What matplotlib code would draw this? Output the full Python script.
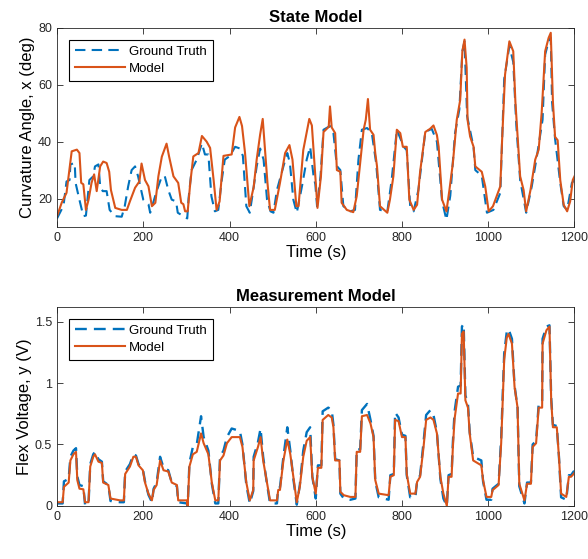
import numpy as np
import matplotlib
matplotlib.use('Agg')
import matplotlib.pyplot as plt

plt.rcParams['font.family'] = ['Liberation Sans', 'DejaVu Sans']

# ---- State model: curvature angle (deg) ----
t_state_model = [0, 11, 22, 34, 46, 52, 56, 61, 67, 73, 80, 86, 92, 100, 107, 115, 121, 125, 135, 150,
                 162, 169, 181, 191, 196, 204, 212, 220, 228, 235, 243, 254, 260, 270, 281, 288, 293, 297, 303, 309,
                 316, 328, 336, 347, 355, 363, 370, 377, 386, 405, 413, 423, 429, 436, 446, 456, 463, 471, 477, 483,
                 488, 494, 505, 517, 529, 539, 546, 555, 560, 571, 585, 591, 599, 604, 612, 618, 630, 633, 637, 645,
                 649, 657, 660, 672, 687, 695, 703, 711, 716, 721, 726, 734, 738, 742, 749, 766, 772, 780, 788, 796,
                 802, 811, 817, 827, 835, 842, 854, 865, 873, 881, 885, 893, 903, 910, 918, 927, 935, 940, 945, 950,
                 952, 958, 966, 970, 985, 993, 1001, 1011, 1028, 1032, 1039, 1049, 1058, 1063, 1074, 1082, 1088, 1098, 1109, 1117,
                 1124, 1132, 1140, 1145, 1150, 1155, 1161, 1167, 1175, 1183, 1190, 1196, 1200]
x_state_model = [13.8, 18.6, 22, 36.6, 37.2, 36, 25.5, 25, 16, 19.5, 25.5, 28.5, 22.6, 31.3, 33, 32.5, 29.4, 23, 16.7, 16,
                 16, 19, 23.8, 26, 32.3, 26.5, 24.3, 17.3, 18.5, 27.8, 34.7, 39.3, 34.7, 27.8, 25.5, 18.5, 18, 15.5, 15.5, 25.5,
                 34.8, 36, 42, 40, 37.8, 26.7, 16, 19, 35, 35.5, 45, 48.7, 45.5, 36, 17.3, 24, 33.7, 42.5, 48, 36,
                 25.5, 16, 16, 25.5, 36, 38.8, 33.7, 17.3, 17.3, 37, 48, 45.7, 27.8, 16.7, 27.8, 43.4, 45.2, 52.4, 45, 43,
                 30, 29.4, 18.5, 16, 15.2, 20.8, 32.5, 44.2, 47.7, 55, 44.2, 42.4, 36, 31.4, 17.3, 15, 19.6, 27.8, 44.2, 43,
                 38.2, 38.2, 19.6, 16, 17.8, 29.4, 43.4, 44.5, 45.7, 42.3, 38.2, 19.6, 15.5, 23, 32.5, 47.7, 54.7, 71.8, 75.9, 66,
                 47.7, 41.8, 38.2, 31.3, 29.4, 24.3, 15.5, 17.3, 24.3, 40, 63.6, 75.3, 71.8, 54, 27.8, 23, 15.5, 23, 33.7, 37.2,
                 50.4, 71.8, 76.5, 78.3, 54, 41.7, 40.5, 26.5, 17.8, 15.5, 19, 26.5, 27.8]

t_state_truth = [0, 15, 22, 29, 31, 41, 43, 52, 61, 67, 75, 84, 88, 96, 100, 106, 115, 122, 134, 150,
                 157, 165, 173, 181, 188, 200, 212, 216, 231, 243, 250, 258, 266, 276, 280, 293, 302, 305, 312, 324,
                 336, 343, 351, 358, 366, 374, 382, 389, 401, 413, 424, 431, 439, 447, 455, 463, 471, 479, 487, 495,
                 502, 510, 525, 534, 540, 548, 556, 568, 579, 587, 595, 599, 603, 611, 618, 633, 641, 649, 657, 664,
                 680, 691, 699, 707, 719, 730, 740, 749, 766, 776, 788, 804, 811, 819, 827, 838, 854, 869, 881, 893,
                 903, 912, 923, 933, 940, 945, 951, 966, 970, 985, 997, 1012, 1028, 1037, 1049, 1058, 1065, 1074, 1088, 1101,
                 1113, 1126, 1132, 1140, 1145, 1148, 1155, 1167, 1175, 1183, 1194, 1200]
x_state_truth = [13, 17.5, 26, 26.5, 32, 32.5, 25.5, 19.5, 13.8, 14, 26.5, 27.8, 31.3, 32, 24.3, 22.6, 22.6, 16, 13.8, 13.6,
                 17.3, 24.3, 30, 31.3, 27.8, 19.6, 18, 15, 22.6, 27.8, 27.8, 23, 19.6, 19, 15, 13.8, 13, 20, 30, 33.7,
                 39.4, 35.5, 35.5, 20.8, 15.5, 16, 26.5, 33.7, 35, 38.2, 37.6, 35, 17.3, 15, 23, 31.3, 37.6, 33.7, 19.6, 15.5,
                 15, 23, 31.3, 36, 32.5, 19.6, 15, 24.3, 33.7, 38.2, 27.8, 25, 17.3, 27.8, 44.2, 45.5, 43, 31.4, 30, 17.3,
                 15.5, 16, 33.7, 44.2, 44.8, 43, 32.5, 16, 15.5, 26.5, 44.2, 38.2, 37, 17.3, 15.5, 23, 43.4, 44.5, 40, 19,
                 12.5, 21, 43, 51.3, 71.8, 75.3, 49, 38, 30, 28, 15, 16, 22, 62, 73.6, 68, 46, 26.5, 15, 24.3,
                 35, 47.7, 70.6, 75.3, 76.5, 54, 41, 25.5, 17.3, 16, 25.5, 26.5]

# ---- Measurement model: flex voltage (V) ----
t_meas = [0, 13, 16, 27, 31, 38, 44, 47, 52, 61, 65, 73, 77, 84, 88, 96, 104, 107, 119, 124,
          146, 155, 158, 169, 177, 183, 189, 199, 204, 212, 220, 224, 231, 239, 247, 258, 266, 278, 281, 301,
          303, 307, 315, 324, 334, 340, 351, 359, 367, 374, 378, 386, 394, 405, 424, 430, 439, 447, 455, 456,
          466, 472, 478, 486, 494, 510, 513, 517, 525, 534, 541, 548, 556, 563, 571, 579, 587, 592, 600, 605,
          613, 616, 629, 637, 641, 645, 655, 657, 665, 680, 692, 695, 703, 707, 719, 727, 734, 738, 746, 769,
          773, 781, 784, 792, 800, 808, 811, 819, 831, 835, 842, 850, 856, 866, 873, 881, 889, 896, 904, 908,
          915, 918, 922, 930, 936, 939, 943, 947, 953, 957, 965, 984, 988, 996, 1007, 1010, 1024, 1030, 1037, 1043,
          1047, 1055, 1061, 1068, 1072, 1084, 1090, 1099, 1103, 1111, 1117, 1125, 1126, 1135, 1142, 1146, 1150, 1159, 1164, 1169,
          1181, 1187, 1192, 1198, 1200]
y_meas_model = [0.03, 0.03, 0.155, 0.19, 0.37, 0.42, 0.44, 0.21, 0.14, 0.135, 0.03, 0.03, 0.32, 0.40, 0.42, 0.36, 0.35, 0.19, 0.17, 0.06,
                0.045, 0.045, 0.26, 0.32, 0.40, 0.40, 0.33, 0.29, 0.19, 0.10, 0.045, 0.13, 0.17, 0.37, 0.29, 0.28, 0.19, 0.17, 0.045, 0.045,
                0.0, 0.32, 0.42, 0.44, 0.59, 0.51, 0.42, 0.19, 0.045, 0.045, 0.37, 0.41, 0.51, 0.56, 0.56, 0.48, 0.19, 0.045, 0.13, 0.37,
                0.48, 0.56, 0.37, 0.21, 0.045, 0.045, 0.13, 0.13, 0.37, 0.54, 0.42, 0.24, 0.03, 0.155, 0.40, 0.53, 0.56, 0.237, 0.10, 0.31,
                0.31, 0.70, 0.74, 0.72, 0.64, 0.37, 0.37, 0.115, 0.087, 0.073, 0.073, 0.44, 0.44, 0.73, 0.74, 0.67, 0.56, 0.21, 0.10, 0.087,
                0.237, 0.25, 0.70, 0.69, 0.56, 0.56, 0.26, 0.10, 0.10, 0.195, 0.237, 0.48, 0.70, 0.72, 0.70, 0.59, 0.237, 0.10, 0.0, 0.237,
                0.237, 0.48, 0.71, 0.915, 0.915, 1.40, 1.42, 0.86, 0.80, 0.59, 0.37, 0.33, 0.21, 0.073, 0.073, 0.128, 0.17, 0.51, 1.19, 1.37,
                1.40, 1.32, 0.97, 0.80, 0.18, 0.045, 0.18, 0.18, 0.48, 0.51, 0.80, 0.80, 1.32, 1.43, 1.46, 0.86, 0.64, 0.64, 0.40, 0.10,
                0.073, 0.237, 0.237, 0.26, 0.27]
y_meas_truth = [0.02, 0.02, 0.20, 0.22, 0.40, 0.45, 0.47, 0.24, 0.17, 0.16, 0.01, 0.01, 0.34, 0.42, 0.44, 0.38, 0.36, 0.20, 0.17, 0.04,
                0.03, 0.03, 0.28, 0.34, 0.42, 0.41, 0.34, 0.30, 0.20, 0.09, 0.03, 0.14, 0.19, 0.40, 0.31, 0.29, 0.19, 0.16, 0.03, 0.02,
                0.0, 0.35, 0.48, 0.50, 0.73, 0.56, 0.45, 0.18, 0.02, 0.02, 0.40, 0.45, 0.56, 0.63, 0.61, 0.50, 0.17, 0.02, 0.12, 0.40,
                0.52, 0.63, 0.40, 0.20, 0.02, 0.02, 0.15, 0.15, 0.40, 0.64, 0.45, 0.22, 0.01, 0.17, 0.45, 0.60, 0.64, 0.24, 0.06, 0.33,
                0.33, 0.77, 0.80, 0.78, 0.66, 0.38, 0.37, 0.10, 0.06, 0.05, 0.06, 0.46, 0.46, 0.78, 0.83, 0.70, 0.57, 0.20, 0.07, 0.05,
                0.25, 0.26, 0.76, 0.72, 0.58, 0.57, 0.25, 0.07, 0.07, 0.20, 0.25, 0.52, 0.74, 0.78, 0.74, 0.60, 0.22, 0.06, 0.0, 0.25,
                0.26, 0.52, 0.77, 0.97, 0.98, 1.46, 1.48, 0.90, 0.83, 0.60, 0.40, 0.37, 0.20, 0.05, 0.05, 0.14, 0.18, 0.55, 1.24, 1.42,
                1.44, 1.36, 0.98, 0.80, 0.16, 0.02, 0.19, 0.19, 0.50, 0.53, 0.83, 0.84, 1.36, 1.46, 1.47, 0.88, 0.66, 0.65, 0.40, 0.07,
                0.05, 0.25, 0.25, 0.28, 0.28]

blue = '#0072BD'
orange = '#D95319'

fig = plt.figure(figsize=(5.88, 5.59), dpi=100)
ax1 = fig.add_axes([0.097, 0.594, 0.880, 0.356])
ax2 = fig.add_axes([0.097, 0.095, 0.880, 0.356])

ax1.plot(t_state_truth, x_state_truth, color=blue, lw=1.5, ls=(0, (5, 3)), label='Ground Truth')
ax1.plot(t_state_model, x_state_model, color=orange, lw=1.5, label='Model')
ax1.set_xlim(0, 1200)
ax1.set_ylim(10, 80)
ax1.set_yticks([20, 40, 60, 80])
ax1.set_title('State Model', fontsize=12, fontweight='bold', pad=4)
ax1.set_xlabel('Time (s)', fontsize=12, labelpad=1)
ax1.set_ylabel('Curvature Angle, x (deg)', fontsize=12, labelpad=2)

ax2.plot(t_meas, y_meas_truth, color=blue, lw=1.7, ls=(0, (5, 3)), label='Ground Truth')
ax2.plot(t_meas, y_meas_model, color=orange, lw=1.5, label='Model')
ax2.set_xlim(0, 1200)
ax2.set_ylim(0, 1.62)
ax2.set_yticks([0, 0.5, 1, 1.5])
ax2.set_yticklabels(['0', '0.5', '1', '1.5'])
ax2.set_title('Measurement Model', fontsize=12, fontweight='bold', pad=4)
ax2.set_xlabel('Time (s)', fontsize=12, labelpad=1)
ax2.set_ylabel('Flex Voltage, y (V)', fontsize=12, labelpad=2)

for ax in (ax1, ax2):
    ax.set_xticks(np.arange(0, 1201, 200))
    ax.tick_params(direction='in', top=True, right=True, labelsize=9, length=4, width=0.6, colors='#262626')
    for sp in ax.spines.values():
        sp.set_linewidth(0.6)
        sp.set_color('#262626')
    leg = ax.legend(loc='upper left', fontsize=9.5, handlelength=3.8, fancybox=False,
                    edgecolor='black', framealpha=1, borderaxespad=0.9, borderpad=0.45,
                    labelspacing=0.35, handletextpad=0.3)
    leg.get_frame().set_linewidth(0.8)

fig.savefig('out.png', dpi=100)
